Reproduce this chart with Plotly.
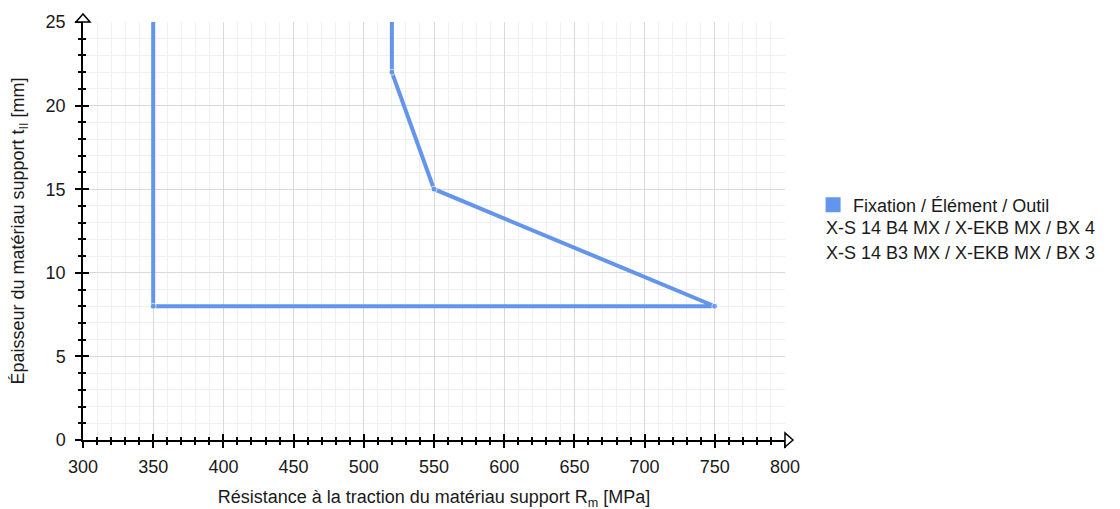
import plotly.graph_objects as go

# Rm [MPa] / t_II [mm] boundary of the application range
x_rm = [350, 350, 750, 550, 520, 520]
y_t = [25, 8, 8, 15, 22, 25]
corner_marker = [0, 6, 6, 6, 6, 0]

x_range = [300, 800]
y_range = [0, 25]
x_ticks = [300, 350, 400, 450, 500, 550, 600, 650, 700, 750, 800]
y_ticks = [0, 5, 10, 15, 20, 25]

legend_head = "Fixation / Élément / Outil"
products = ["X-S 14 B4 MX / X-EKB MX / BX 4", "X-S 14 B3 MX / X-EKB MX / BX 3"]

BLUE = "#6495ed"
FONT = "Liberation Sans, Arial, Helvetica, sans-serif"

fig = go.Figure()

fig.add_trace(go.Scatter(
    x=x_rm, y=y_t, mode="lines+markers",
    line=dict(color=BLUE, width=4),
    marker=dict(color=BLUE, size=corner_marker),
    showlegend=False, hoverinfo="x+y",
))
# legend entry only
fig.add_trace(go.Scatter(
    x=[None], y=[None], mode="markers", name=legend_head,
    marker=dict(color=BLUE, symbol="square", size=15),
))
# overlay axes so ticks cross the axis lines
fig.add_trace(go.Scatter(x=[None], y=[None], xaxis="x2", yaxis="y2",
                         showlegend=False, hoverinfo="skip"))

common = dict(showline=True, linecolor="black", linewidth=1.5,
              ticks="outside", ticklen=6, tickcolor="black", tickwidth=1.5,
              tickfont=dict(size=18, color="#1a1a1a"),
              showgrid=True, gridcolor="#d9d9d9", gridwidth=1,
              zeroline=False, fixedrange=True, automargin=False)

overlay = dict(ticks="inside", ticklen=6, tickwidth=1.5, tickcolor="black",
               showticklabels=False, showgrid=False, zeroline=False,
               showline=False, fixedrange=True, automargin=False)

fig.update_layout(
    width=1120, height=509,
    margin=dict(l=75, r=343, t=14, b=77),
    paper_bgcolor="white", plot_bgcolor="white",
    font=dict(family=FONT, color="#1a1a1a"),
    xaxis=dict(range=x_range, tickvals=x_ticks, **common, ticklabelstandoff=4,
               minor=dict(dtick=10, showgrid=True, gridcolor="#f0f0f0",
                          ticks="outside", ticklen=3, tickcolor="black"),
               title=dict(text="Résistance à la traction du matériau support R<sub>m</sub> [MPa]",
                          font=dict(size=18), standoff=14)),
    yaxis=dict(range=y_range, tickvals=y_ticks, **common, ticklabelstandoff=6,
               minor=dict(dtick=1, showgrid=True, gridcolor="#f0f0f0",
                          ticks="outside", ticklen=3, tickcolor="black"),
               title=dict(text="Épaisseur du matériau support t<sub>II</sub> [mm]",
                          font=dict(size=18), standoff=16)),
    xaxis2=dict(range=x_range, tickvals=x_ticks, overlaying="x", anchor="y2",
                side="bottom", **overlay,
                minor=dict(dtick=10, ticks="inside", ticklen=3, tickcolor="black")),
    yaxis2=dict(range=y_range, tickvals=y_ticks, overlaying="y", anchor="x2",
                side="left", **overlay,
                minor=dict(dtick=1, ticks="inside", ticklen=3, tickcolor="black")),
    legend=dict(x=1.04, xanchor="left", y=0.562, yanchor="middle",
                font=dict(size=18), bgcolor="rgba(0,0,0,0)"),
)

# axis arrow heads
fig.add_shape(type="path", xref="x domain", yref="y domain",
              xsizemode="pixel", ysizemode="pixel", xanchor=0, yanchor=1,
              path="M -7 0 L 0 8 L 7 0 Z", line=dict(color="black", width=1.5),
              fillcolor="white", layer="above")
fig.add_shape(type="path", xref="x domain", yref="y domain",
              xsizemode="pixel", ysizemode="pixel", xanchor=1, yanchor=0,
              path="M 0 -7 L 8 0 L 0 7 Z", line=dict(color="black", width=1.5),
              fillcolor="white", layer="above")

for i, name in enumerate(products):
    fig.add_annotation(text=name, xref="paper", yref="paper",
                       x=1.056, y=0.507 - 0.06 * i, xanchor="left", yanchor="middle",
                       showarrow=False, font=dict(size=18, color="#1a1a1a"))

fig.write_html("out.html")
